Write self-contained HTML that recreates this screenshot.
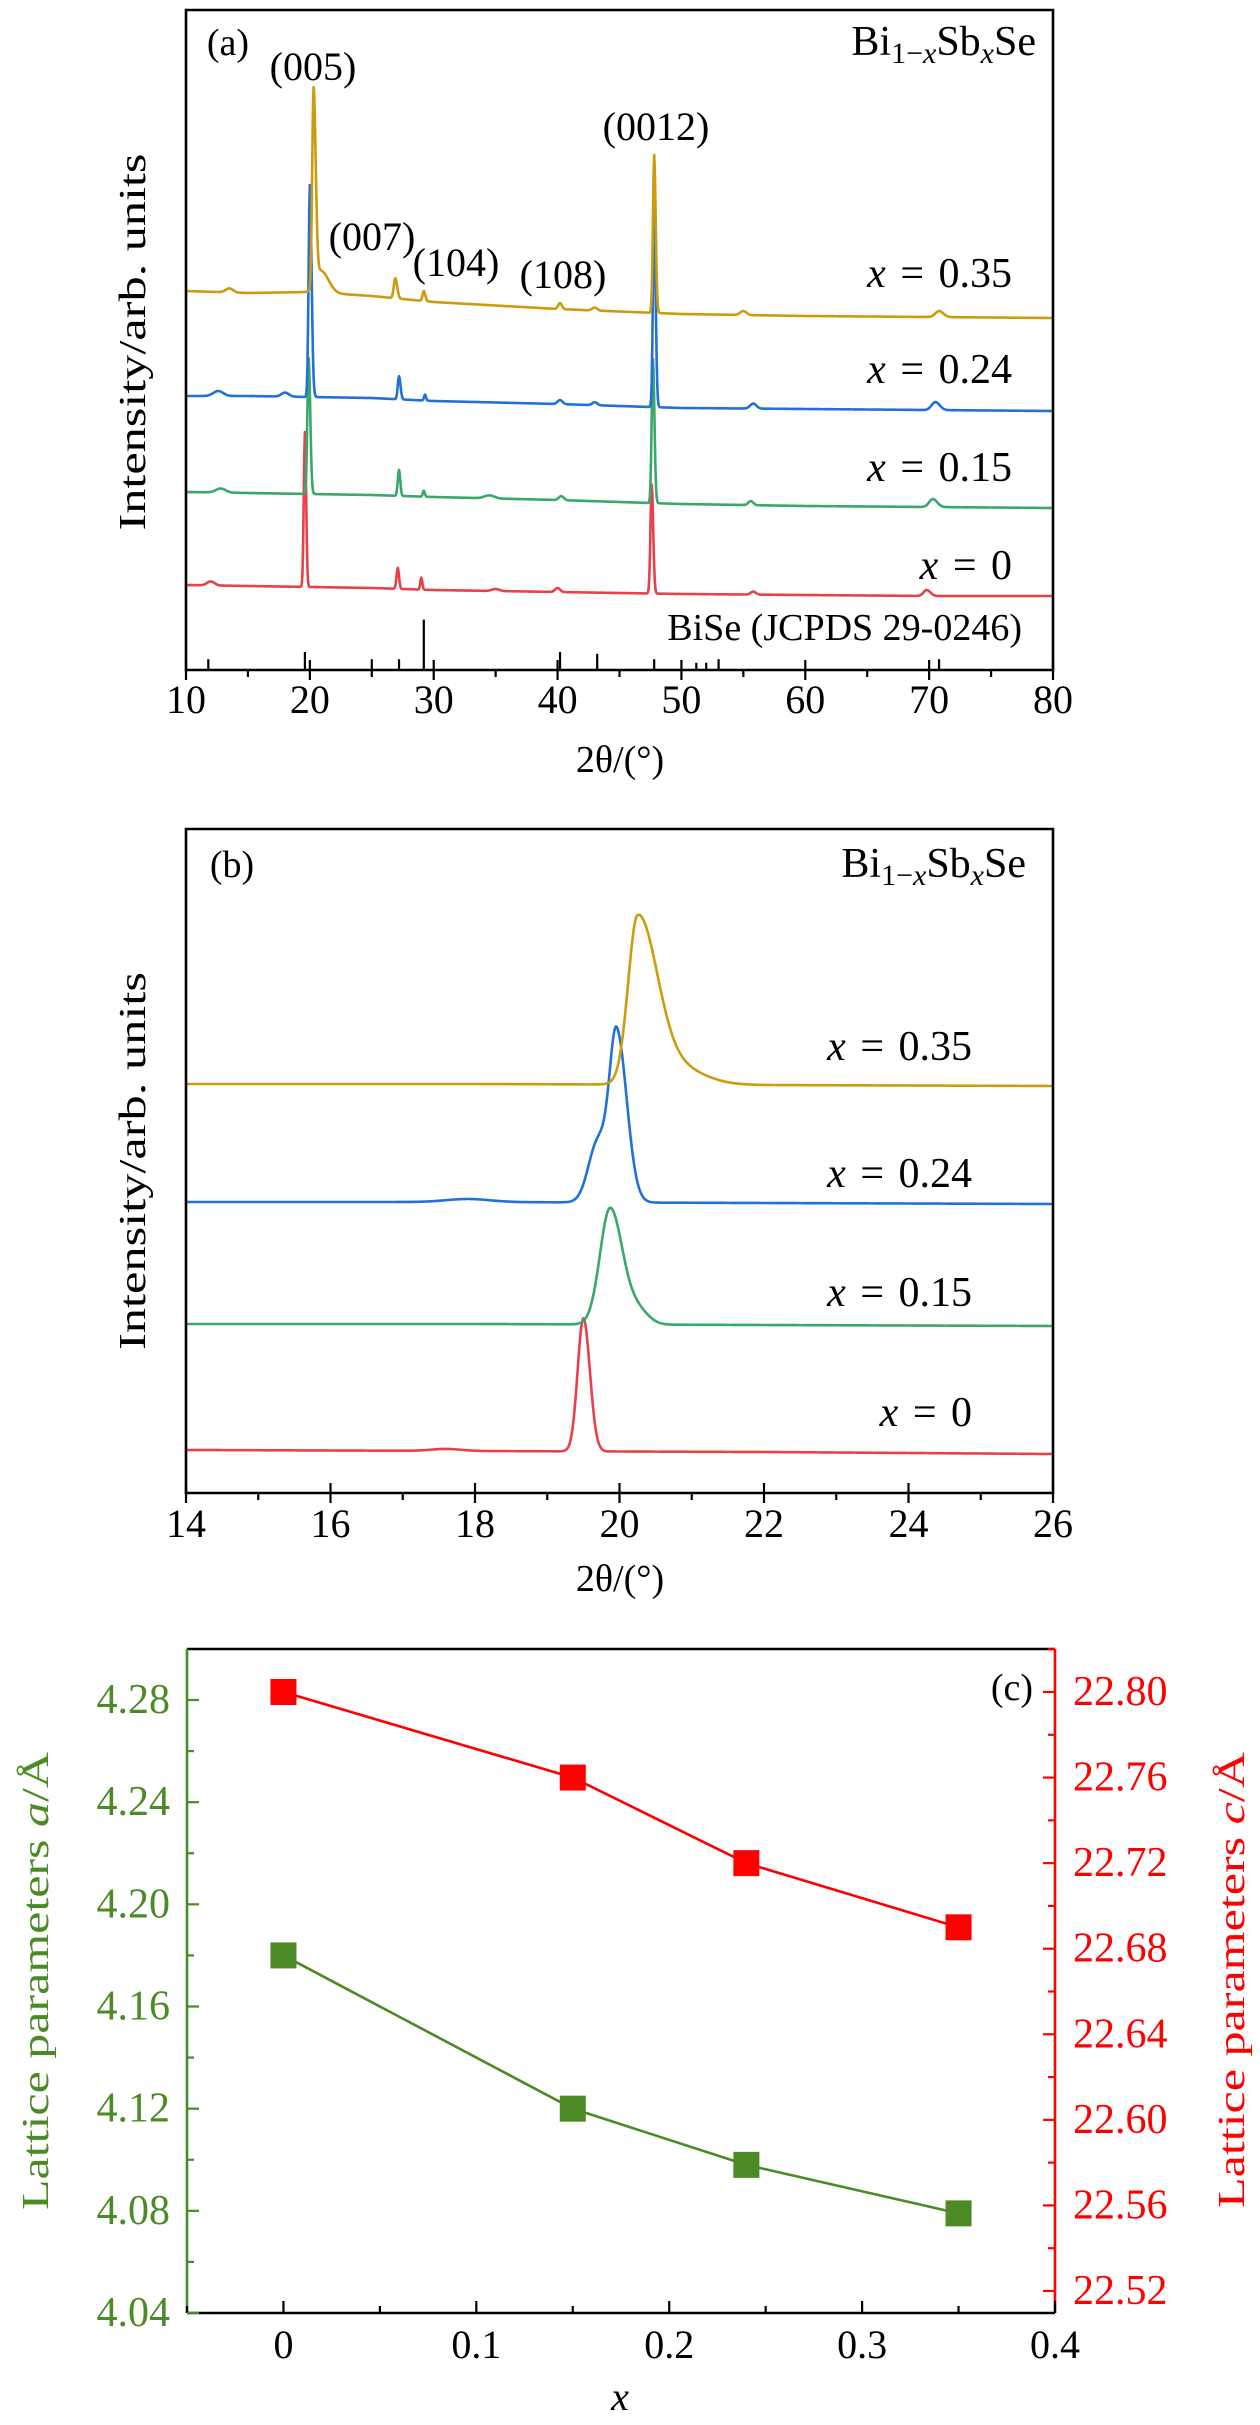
<!DOCTYPE html>
<html><head><meta charset="utf-8"><style>
html,body{margin:0;padding:0;background:#fff;}
svg{display:block;font-family:"Liberation Serif",serif;}
</style></head><body>
<svg id="fig" width="1260" height="2425" viewBox="0 0 1260 2425" xmlns="http://www.w3.org/2000/svg"></svg>
<script>
// ===== Panel (a) data =====
const aSeriesNames = ["x0","x015","x024","x035"];
const aLabels = ["0","0.15","0.24","0.35"];
const aColors = ["#e8414a","#3aa86b","#2271d8","#cc9c10"];
const aBaseX = [10,15,20,25,30,40,50,60,70,80];
const aBase0 = [88,87,86,85,83,81,79,78,77,77];
const aBase015 = [181,180,179,178,176,173,169,167,166,165];
const aBase024 = [277,277,276,275,272,269,265,264,263,262];
const aBase035 = [382,380,381,377,371,364,359,357,356,355];
// peaks: [position, height, sigmaLeft, sigmaRight]
const aPeaks0 = [[12,4,0.3,0.3],[19.6,155,0.09,0.1],[27.1,21,0.1,0.1],[29.0,12,0.08,0.08],[35,2,0.3,0.3],[40.0,4,0.2,0.2],[47.6,109,0.1,0.12],[55.8,3,0.2,0.2],[69.8,6,0.25,0.3]];
const aPeaks015 = [[12.8,4,0.4,0.4],[19.9,136,0.1,0.13],[27.2,26,0.1,0.1],[29.2,6,0.08,0.08],[34.5,3,0.4,0.4],[40.3,4,0.2,0.2],[47.7,144,0.1,0.12],[55.6,4,0.2,0.2],[70.3,8,0.3,0.35]];
const aPeaks024 = [[12.6,5,0.4,0.4],[18,4,0.3,0.3],[20.0,212,0.1,0.14],[27.2,23,0.1,0.12],[29.3,6,0.08,0.08],[40.2,4,0.2,0.2],[43,3,0.2,0.2],[47.8,193,0.1,0.12],[55.8,5,0.25,0.25],[70.5,8,0.3,0.35]];
const aPeaks035 = [[13.5,4,0.3,0.3],[20.3,198,0.11,0.17],[20.9,22,0.4,0.6],[26.9,20,0.12,0.15],[29.2,10,0.1,0.12],[40.2,6,0.15,0.15],[43,3,0.2,0.2],[47.8,158,0.1,0.12],[55,4,0.25,0.25],[70.8,6,0.3,0.35]];
const aRefPos = [11.8,19.6,25,27.2,29.2,40.2,43.2,47.8,51.2,52,53,70.8];
const aRefH = [3,5,3,3,14,5,4.5,3,2,2,3,3];
const aXTicks = [10,20,30,40,50,60,70,80];
const aHkl = ["(005)","(007)","(104)","(108)","(0012)"];
// ===== Panel (b) data =====
const bBaseX = [14,18,22,26];
const bBase0 = [43,42,41,39];
const bBase015 = [169,169,168,167];
const bBase024 = [291,291,290,289];
const bBase035 = [409,409,408,407];
const bPeaks0 = [[19.5,133,0.08,0.09],[17.6,2,0.2,0.2]];
const bPeaks015 = [[19.87,116,0.14,0.17],[20.25,14,0.15,0.15]];
const bPeaks024 = [[19.96,170,0.1,0.14],[19.7,60,0.13,0.12],[17.9,3,0.3,0.3]];
const bPeaks035 = [[20.25,163,0.13,0.26],[20.7,20,0.3,0.4]];
const bXTicks = [14,16,18,20,22,24,26];
// ===== Panel (c) data =====
const cX = [0,0.15,0.24,0.35];
const cA = [4.18,4.12,4.098,4.079];
const cC = [22.80,22.76,22.72,22.69];
const cXTicks = [0,0.1,0.2,0.3,0.4];
const cATicks = [4.04,4.08,4.12,4.16,4.20,4.24,4.28];
const cCTicks = [22.52,22.56,22.60,22.64,22.68,22.72,22.76,22.80];

const NS="http://www.w3.org/2000/svg";
const svg=document.getElementById('fig');
function mk(tag,attrs,parent){const e=document.createElementNS(NS,tag);for(const k in attrs)e.setAttribute(k,attrs[k]);(parent||svg).appendChild(e);return e;}
function lin(d0,d1,r0,r1){return v=>r0+(v-d0)*(r1-r0)/(d1-d0);}
function interp(xs,ys,x){if(x<=xs[0])return ys[0];for(let i=1;i<xs.length;i++){if(x<=xs[i]){const t=(x-xs[i-1])/(xs[i]-xs[i-1]);return ys[i-1]+t*(ys[i]-ys[i-1]);}}return ys[ys.length-1];}
function prof(x,bx,by,peaks){let y=interp(bx,by,x);for(const p of peaks){const s=x<p[0]?p[2]:p[3];y+=p[1]*Math.exp(-0.5*((x-p[0])/s)**2);}return y;}
function tracePath(x0,x1,n,bx,by,peaks,sx,sy){let d='';for(let i=0;i<=n;i++){const x=x0+(x1-x0)*i/n;const y=prof(x,bx,by,peaks);d+=(i?'L':'M')+sx(x).toFixed(2)+','+sy(y).toFixed(2);}return d;}
function txt(s,attrs,parent){const t=mk('text',attrs,parent);t.textContent=s;return t;}
function xEq(val,x,y,parent){const t=mk('text',{x:x,y:y,'text-anchor':'end','font-size':42,'word-spacing':4},parent);const a=document.createElementNS(NS,'tspan');a.setAttribute('font-style','italic');a.textContent='x';t.appendChild(a);const b=document.createElementNS(NS,'tspan');b.textContent=' = '+val;t.appendChild(b);return t;}
function formula(x,y,parent){const t=mk('text',{x:x,y:y,'text-anchor':'end','font-size':42},parent);
 const parts=[['Bi',{}],['1−',{'font-size':30,dy:8}],['x',{'font-size':30,'font-style':'italic'}],['Sb',{'font-size':42,dy:-8}],['x',{'font-size':30,'font-style':'italic',dy:8}],['Se',{'font-size':42,dy:-8}]];
 for(const [s,a] of parts){const sp=document.createElementNS(NS,'tspan');for(const k in a)sp.setAttribute(k,a[k]);sp.textContent=s;t.appendChild(sp);}return t;}

// ================= Panel A =================
(function(){
const g=mk('g',{});


const L=186,R=1053,T=10,B=670;
const sx=lin(10,80,L,R), sy=lin(0,664,B+3,T-1);
const bases=[aBase0,aBase015,aBase024,aBase035], peaks=[aPeaks0,aPeaks015,aPeaks024,aPeaks035];
for(let i=0;i<4;i++){
 const p=mk('path',{d:tracePath(10,80,1400,aBaseX,bases[i],peaks[i],sx,sy),fill:'none',stroke:aColors[i],'stroke-width':2.6,'stroke-linejoin':'round'},g);
 
 
}
for(let i=0;i<aRefPos.length;i++){
 const l=mk('line',{x1:sx(aRefPos[i]),x2:sx(aRefPos[i]),y1:B,y2:B-aRefH[i]*3.6,stroke:'#000','stroke-width':2.2},g);
 
 
}
const fr=mk('path',{d:`M${L},${B}V${T}H${R}V${B}Z`,fill:'none',stroke:'#000','stroke-width':2.6},g);


for(let v=10;v<=80;v+=5){const maj=v%10===0;mk('line',{x1:sx(v),x2:sx(v),y1:maj?B-10:B,y2:B+(maj?10:7),stroke:'#000','stroke-width':2.2},g);}
for(const v of aXTicks){const t=txt(String(v),{x:sx(v),y:713,'text-anchor':'middle','font-size':40},g);
 
 }
const xt=txt('2θ/(°)',{x:620,y:772,'text-anchor':'middle','font-size':38},g);


const yt=txt('Intensity/arb. units',{x:0,y:0,'text-anchor':'middle','font-size':38,textLength:377,lengthAdjust:'spacingAndGlyphs',transform:'translate(145,342) rotate(-90)'},g);


const pl=txt('(a)',{x:228,y:55,'text-anchor':'middle','font-size':38},g);


const fm=formula(1036,55,g);


const hklX=[313,372,456,563,656], hklY=[80,250,276,288,140];
for(let i=0;i<aHkl.length;i++){const t=txt(aHkl[i],{x:hklX[i],y:hklY[i],'text-anchor':'middle','font-size':40},g);
 
 }
const ly=[579,481,383,287];
for(let i=0;i<4;i++){const t=xEq(aLabels[i],1012,ly[i],g);
 
 }
const rl=txt('BiSe (JCPDS 29-0246)',{x:1022,y:640,'text-anchor':'end','font-size':38},g);


})();

// ================= Panel B =================
(function(){
const g=mk('g',{});


const L=186,R=1053,T=829,B=1493;
const sx=lin(14,26,L,R), sy=lin(0,664,B,T);
const bases=[bBase0,bBase015,bBase024,bBase035], peaks=[bPeaks0,bPeaks015,bPeaks024,bPeaks035];
for(let i=0;i<4;i++){
 const p=mk('path',{d:tracePath(14,26,1200,bBaseX,bases[i],peaks[i],sx,sy),fill:'none',stroke:aColors[i],'stroke-width':2.6,'stroke-linejoin':'round'},g);
 
 
}
const fr=mk('path',{d:`M${L},${B}V${T}H${R}V${B}Z`,fill:'none',stroke:'#000','stroke-width':2.6},g);


for(let v=14;v<=26;v+=1){const maj=v%2===0;mk('line',{x1:sx(v),x2:sx(v),y1:maj?B-10:B,y2:B+(maj?10:7),stroke:'#000','stroke-width':2.2},g);}
for(const v of bXTicks){const t=txt(String(v),{x:sx(v),y:1537,'text-anchor':'middle','font-size':40},g);
 
 }
const xt=txt('2θ/(°)',{x:620,y:1591,'text-anchor':'middle','font-size':38},g);


const yt=txt('Intensity/arb. units',{x:0,y:0,'text-anchor':'middle','font-size':38,textLength:378,lengthAdjust:'spacingAndGlyphs',transform:'translate(145,1161) rotate(-90)'},g);


const pl=txt('(b)',{x:232,y:877,'text-anchor':'middle','font-size':38},g);


const fm=formula(1026,877,g);


const ly=[1426,1306,1187,1060];
for(let i=0;i<4;i++){const t=xEq(aLabels[i],972,ly[i],g);
 
 }
})();

// ================= Panel C =================
(function(){
const g=mk('g',{});


const L=187,R=1055,T=1649,B=2313;
const sx=lin(-0.05,0.4,L,R), sa=lin(4.04,4.28,B,1700), sc=lin(22.52,22.80,2291,1692);
const green='#4b8a24', red='#ff0000';
mk('line',{x1:L,x2:R,y1:T,y2:T,stroke:'#000','stroke-width':2.6},g);
const xa=mk('line',{x1:L,x2:R,y1:B,y2:B,stroke:'#000','stroke-width':2.6},g);


const la=mk('line',{x1:L,x2:L,y1:T,y2:B,stroke:green,'stroke-width':2.6},g);


const ra=mk('line',{x1:R,x2:R,y1:T,y2:B,stroke:red,'stroke-width':2.6},g);


for(let k=0;k<=9;k++){const v=-0.05+k*0.05;const maj=k%2===1;mk('line',{x1:sx(v),x2:sx(v),y1:B,y2:B-(maj?12:7),stroke:'#000','stroke-width':2.2},g);}
for(const v of cXTicks){const t=txt(String(v),{x:sx(v),y:2358,'text-anchor':'middle','font-size':40},g);
 
 }
for(let k=0;k<=13;k++){const v=4.04+k*0.02;if(sa(v)<T)break;const maj=k%2===0;mk('line',{x1:L,x2:L+(maj?12:7),y1:sa(v),y2:sa(v),stroke:green,'stroke-width':2.2},g);}
for(const v of cATicks){const t=txt(v.toFixed(2),{x:170,y:sa(v)+13,'text-anchor':'end','font-size':42,fill:green},g);
 
 }
for(let k=-1;k<=16;k++){const v=22.52+k*0.02;const y=sc(v);if(y<T||y>B)continue;const maj=k%2===0;mk('line',{x1:R,x2:R-(maj?12:7),y1:y,y2:y,stroke:red,'stroke-width':2.2},g);}
for(const v of cCTicks){const t=txt(v.toFixed(2),{x:1073,y:sc(v)+13,'text-anchor':'start','font-size':42,fill:red},g);
 
 }
let d='';cX.forEach((x,i)=>{d+=(i?'L':'M')+sx(x)+','+sa(cA[i]);});
const pa=mk('path',{d:d,fill:'none',stroke:green,'stroke-width':2.6},g);


cX.forEach((x,i)=>{const r=mk('rect',{x:sx(x)-13,y:sa(cA[i])-13,width:26,height:26,fill:green},g);
 
 });
d='';cX.forEach((x,i)=>{d+=(i?'L':'M')+sx(x)+','+sc(cC[i]);});
const pc=mk('path',{d:d,fill:'none',stroke:red,'stroke-width':2.6},g);


cX.forEach((x,i)=>{const r=mk('rect',{x:sx(x)-13,y:sc(cC[i])-13,width:26,height:26,fill:red},g);
 
 });
const pl=txt('(c)',{x:1012,y:1700,'text-anchor':'middle','font-size':38},g);


const xt=txt('x',{x:620,y:2410,'text-anchor':'middle','font-size':40,'font-style':'italic'},g);


const yl=mk('text',{x:0,y:0,'text-anchor':'middle','font-size':38,fill:green,textLength:458,lengthAdjust:'spacingAndGlyphs',transform:'translate(48,1981) rotate(-90)'},g);
yl.innerHTML='Lattice parameters <tspan font-style="italic">a</tspan>/Å';


const yr=mk('text',{x:0,y:0,'text-anchor':'middle','font-size':38,fill:red,textLength:456,lengthAdjust:'spacingAndGlyphs',transform:'translate(1244,1980) rotate(-90)'},g);
yr.innerHTML='Lattice parameters <tspan font-style="italic">c</tspan>/Å';


})();
</script>
</body></html>
